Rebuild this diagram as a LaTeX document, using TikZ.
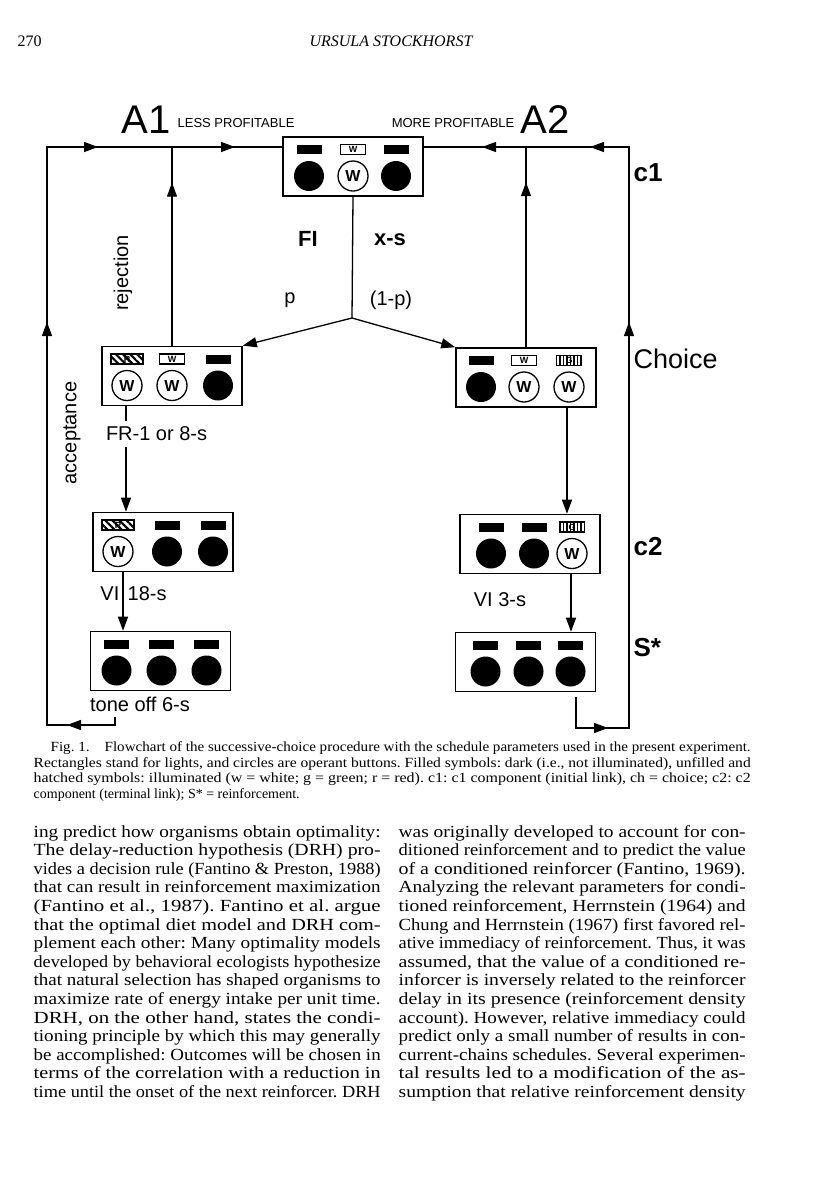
\documentclass[tikz,border=0pt]{standalone}
\usepackage{fontspec}
\usepackage{graphicx}
\setmainfont{Liberation Serif}
\setsansfont{Liberation Sans}
\usetikzlibrary{arrows.meta,positioning,calc,patterns.meta,decorations.markings}
\newcommand{\fsz}[1]{\fontsize{#1}{#1}\selectfont}
\newcommand{\fitline}[2]{\resizebox{#1}{\height}{#2}}
\frenchspacing

\begin{document}
\begin{tikzpicture}[x=1pt,y=-1pt,line width=1.3pt,
    >={Triangle[length=14pt,width=10pt]},
    panel/.style={draw,line width=1.6pt,minimum width=140pt,minimum height=59pt,inner sep=0pt},
    lamp/.style={minimum width=25pt,minimum height=9pt,inner sep=0pt,font=\sffamily\bfseries\fsz{9}},
    darklamp/.style={lamp,fill=black},
    wlamp/.style={lamp,draw,line width=1.1pt,minimum height=10pt},
    rlamp/.style={lamp,draw,line width=1.1pt,minimum width=32pt,minimum height=10pt,
      pattern={Lines[angle=-45,distance=5pt,line width=2.2pt]}},
    glamp/.style={lamp,draw,line width=1.1pt,minimum height=10pt,
      pattern={Lines[angle=90,distance=3.5pt,line width=1.6pt]}},
    darkkey/.style={circle,fill=black,minimum size=30pt,inner sep=0pt},
    wkey/.style={circle,draw,line width=1.3pt,minimum size=30pt,inner sep=0pt,font=\sffamily\bfseries\fsz{16}},
    lbl/.style={font=\sffamily\fsz{20},inner sep=0pt},
    big/.style={font=\sffamily\fsz{27},inner sep=0pt,anchor=west},
    comp/.style={big,font=\sffamily\bfseries\fsz{26}},
    capline/.style={anchor=base west,inner sep=0pt,font=\fsz{14}},
    bodyline/.style={anchor=base west,inner sep=0pt,font=\fsz{17}},
    tipat/.style={postaction={decorate,decoration={markings,mark=at position #1 with {\arrow{>}}}}}
  ]

  \fill[white] (0,0) rectangle (816,1200);
  \useasboundingbox (0,0) rectangle (816,1200);

  % running head
  \node[anchor=base west,inner sep=0pt,font=\fsz{16}] (pgno) at (17,46) {270};
  \node[anchor=base,inner sep=0pt,font=\itshape\fsz{16}] (runhead) at (391,46) {URSULA STOCKHORST};

  % alternatives
  \node[anchor=base,inner sep=0pt,font=\sffamily\fsz{40}] (a1) at (146,133) {A1};
  \node[anchor=base west,inner sep=0pt,font=\sffamily\fsz{13}] (less) at (177,127) {LESS PROFITABLE};
  \node[anchor=base east,inner sep=0pt,font=\sffamily\fsz{13}] (more) at (515,127) {MORE PROFITABLE};
  \node[anchor=base,inner sep=0pt,font=\sffamily\fsz{40}] (a2) at (545,133) {A2};

  % panels
  \node[panel] (top) at (353,166.5) {};
  \node[panel] (lbox) at (172,376) {};
  \node[panel] (rbox) at (526,377.5) {};
  \node[panel] (mlbox) at (163,542) {};
  \node[panel] (mrbox) at (530,544) {};
  \node[panel] (blbox) at (160.5,661) {};
  \node[panel] (brbox) at (525.5,662) {};

  % lights and keys
  \foreach \p/\dx/\lt/\lx/\kt/\kx in {
      top/-44/darklamp/{}/darkkey/{}, top/0/wlamp/W/wkey/W, top/43/darklamp/{}/darkkey/{},
      lbox/-45/rlamp/R/wkey/W, lbox/0/wlamp/W/wkey/W, lbox/46/darklamp/{}/darkkey/{},
      rbox/-45/darklamp/{}/darkkey/{}, rbox/-2/wlamp/W/wkey/W, rbox/43/glamp/G/wkey/W,
      mlbox/-45/rlamp/R/wkey/W, mlbox/4/darklamp/{}/darkkey/{}, mlbox/50/darklamp/{}/darkkey/{},
      mrbox/-39/darklamp/{}/darkkey/{}, mrbox/4/darklamp/{}/darkkey/{}, mrbox/42/glamp/G/wkey/W,
      blbox/-44/darklamp/{}/darkkey/{}, blbox/1/darklamp/{}/darkkey/{}, blbox/46/darklamp/{}/darkkey/{},
      brbox/-40/darklamp/{}/darkkey/{}, brbox/3/darklamp/{}/darkkey/{}, brbox/45/darklamp/{}/darkkey/{}}
  {
    \node[\lt] at ($(\p)+(\dx,-17)$) {\lx};
    \node[\kt] at ($(\p)+(\dx,9.5)$) {\kx};
  }

  % connectors
  \coordinate (tl) at (47,147);
  \coordinate (bl) at (47,725);
  \coordinate (tr) at (629,147);
  \coordinate (br) at (629,728);
  \coordinate (fork) at (352,318);
  \coordinate (toneout) at (115,717);
  \coordinate (srout) at (576,697);

  \draw[tipat=56pt,tipat=479pt,tipat=705pt,tipat=842pt] (toneout) |- (bl) -- (tl) -- (tl -| top.west);
  \draw[tipat=63pt,tipat=490pt,tipat=704pt,tipat=812pt] (srout) |- (br) -- (tr) -- (tr -| top.east);
  \draw[tipat=163pt] (lbox.north) -- (lbox.north |- tl);
  \draw[tipat=165pt] (rbox.north) -- (rbox.north |- tr);

  \draw (top.south) -- (fork);
  \draw[->] (fork) -- (lbox.north east);
  \draw[->] (fork) -- (rbox.north west);

  \node[lbl,anchor=west,outer sep=6pt] (fr) at (100,434) {FR-1 or 8-s};
  \coordinate (frx) at ($(lbox.south)+(-46,0)$);
  \draw (frx) -- (frx |- fr.north);
  \draw[->] (frx |- fr.south) -- (frx |- mlbox.north);

  \node[lbl,anchor=east] (vi) at (120,594) {VI};
  \node[lbl,anchor=west] (vis) at (127,594) {18-s};
  \coordinate (vix) at ($(mlbox.south)+(-40,0)$);
  \draw[->] (vix) -- (vix |- blbox.north);

  \coordinate (rx) at ($(rbox.south)+(41,0)$);
  \draw[->] (rx) -- (rx |- mrbox.north);
  \coordinate (mrx) at ($(mrbox.south)+(41,0)$);
  \draw[->] (mrx) -- (mrx |- brbox.north);
  \node[lbl] (vi3) at (500,600) {VI 3-s};
  \node[lbl] (tone) at (140,704) {tone off 6-s};

  % schedule labels
  \node[inner sep=0pt,font=\sffamily\bfseries\fsz{22}] (fi) at (308,239) {FI};
  \node[inner sep=0pt,font=\sffamily\bfseries\fsz{22}] (xs) at (390,240) {x-s};
  \node[lbl] (p) at (290,300) {p};
  \node[lbl] (onep) at (391,300) {(1-p)};
  \node[lbl,rotate=90] (rej) at (123,273) {rejection};
  \node[lbl,rotate=90] (acc) at (72,433) {acceptance};

  % components
  \node[comp] (c1) at (633,173) {c1};
  \node[big] (choice) at (633,359) {Choice};
  \node[comp] (c2) at (633,547) {c2};
  \node[comp] (sstar) at (633,648) {S*};

  % caption
  \node[capline] (cap1) at (50,751.5)
    {\fitline{700pt}{Fig. 1.\quad Flowchart of the successive-choice procedure with the schedule parameters used in the present experiment.}};
  \node[capline] (cap2) at (33,767)
    {\fitline{717pt}{Rectangles stand for lights, and circles are operant buttons. Filled symbols: dark (i.e., not illuminated), unfilled and}};
  \node[capline] (cap3) at (33,782.5)
    {\fitline{717pt}{hatched symbols: illuminated (w = white; g = green; r = red). c1: c1 component (initial link), ch = choice; c2: c2}};
  \node[capline] (cap4) at (33,798)
    {\resizebox{!}{\height}{component (terminal link); S* = reinforcement.}};

  % body text
  \foreach \t [count=\i] in {
      {ing predict how organisms obtain optimality:},
      {The delay-reduction hypothesis (DRH) pro-},
      {vides a decision rule (Fantino \& Preston, 1988)},
      {that can result in reinforcement maximization},
      {(Fantino et al., 1987). Fantino et al. argue},
      {that the optimal diet model and DRH com-},
      {plement each other: Many optimality models},
      {developed by behavioral ecologists hypothesize},
      {that natural selection has shaped organisms to},
      {maximize rate of energy intake per unit time.},
      {DRH, on the other hand, states the condi-},
      {tioning principle by which this may generally},
      {be accomplished: Outcomes will be chosen in},
      {terms of the correlation with a reduction in},
      {time until the onset of the next reinforcer. DRH}}
    \node[bodyline] (left\i) at (33,{837+18.6*(\i-1)}) {\fitline{347pt}{\t}};

  \foreach \t [count=\i] in {
      {was originally developed to account for con-},
      {ditioned reinforcement and to predict the value},
      {of a conditioned reinforcer (Fantino, 1969).},
      {Analyzing the relevant parameters for condi-},
      {tioned reinforcement, Herrnstein (1964) and},
      {Chung and Herrnstein (1967) first favored rel-},
      {ative immediacy of reinforcement. Thus, it was},
      {assumed, that the value of a conditioned re-},
      {inforcer is inversely related to the reinforcer},
      {delay in its presence (reinforcement density},
      {account). However, relative immediacy could},
      {predict only a small number of results in con-},
      {current-chains schedules. Several experimen-},
      {tal results led to a modification of the as-},
      {sumption that relative reinforcement density}}
    \node[bodyline] (right\i) at (398,{837+18.6*(\i-1)}) {\fitline{347pt}{\t}};

\end{tikzpicture}
\end{document}
